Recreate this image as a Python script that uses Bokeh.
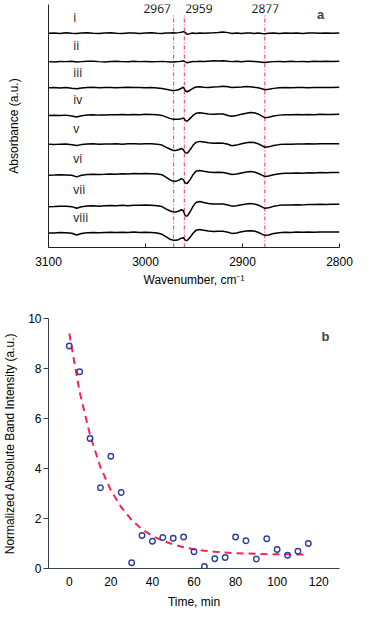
from bokeh.plotting import figure
from bokeh.layouts import column
from bokeh.models import Range1d, Label, FixedTicker
from bokeh.embed import file_html
from bokeh.resources import INLINE

# ---------------- Panel a data: stacked IR difference spectra ----------------
wavenumber = [3100, 3094, 3088, 3082, 3076, 3071, 3066, 3060, 3054, 3048,
              3042, 3036, 3030, 3024, 3018, 3012, 3006, 3000, 2994, 2988,
              2983, 2979, 2975, 2972, 2969, 2966, 2963, 2961, 2959, 2957,
              2954, 2951, 2948, 2944, 2940, 2935, 2930, 2925, 2920, 2915,
              2911, 2906, 2901, 2896, 2892, 2888, 2884, 2880, 2877, 2873,
              2868, 2862, 2856, 2850, 2844, 2838, 2832, 2826, 2820, 2814,
              2808, 2800]

trace_names = ["i", "ii", "iii", "iv", "v", "vi", "vii", "viii"]
trace_offsets = [218.7, 189.7, 163.0, 135.3, 105.3, 75.3, 43.0, 15.0]

abs_i = [0, 0.3, -0.2, 0.4, 0, -0.3, 0.2, 0.5, 0, -0.3,
         0.2, 0.4, 0, -0.2, 0.3, 0.1, -0.3, 0.2, 0.4, 0,
         -0.2, 0.2, 0.3, 0.5, 0.3, 0.6, 1.0, 1.6, 0.8, -1.2,
         -0.4, 0.3, -0.2, 0.2, 0, 0.3, 0.5, 0.8, 1.3, 0.6,
         -0.2, 0.3, -0.3, 0.2, 0.1, -0.2, 0.3, -0.2, -0.5, 0,
         0.3, -0.2, 0.2, 0, 0.3, -0.2, 0.1, 0.3, -0.1, 0.2,
         0, 0.1]
abs_ii = [0, -0.3, 0.2, 0, 0.3, -0.4, 0, 0.3, 0.5, 0,
          -0.3, 0.2, 0.4, 0, -0.2, 0.3, 0, 0.2, -0.2, 0,
          0.2, 0, -0.3, -0.4, -0.2, 0, 0.3, 0.8, -0.2, -1.2,
          -0.3, 0.2, 0, 0.3, 0.2, 0.5, 0.8, 0.6, 1.0, 0.3,
          0, 0.3, -0.2, 0.4, 0.5, 0.2, -0.2, -0.6, -1.0, -0.4,
          0, 0.2, -0.2, 0.3, 0, 0.2, -0.2, 0.3, 0.1, 0.4,
          0.2, 0.3]
abs_iii = [0, 0.3, -0.2, 0.4, -0.4, -0.9, -0.2, 0.3, 0.5, 0,
           0.4, 0.2, 0, 0.4, 0.6, 0.2, 0.4, 0.1, 0.3, -0.2,
           -0.8, -1.5, -2.3, -2.7, -2.6, -2.0, -0.5, 0.6, -3.0, -4.0,
           -2.5, -0.5, 0.8, 1.0, 0.6, 0.4, 0.7, 1.0, 1.6, 1.0,
           0.3, 0.6, 0.8, 1.2, 1.1, 0.5, 0, -1.0, -2.0, -1.6,
           -0.6, 0, 0.3, 0, 0.2, 0.4, 0, 0.2, 0.4, 0.2,
           0.3, 0.5]
abs_iv = [-0.5, -0.3, -0.6, -0.2, -1.0, -2.2, -0.8, 0, 0.2, -0.2,
          0, 0.3, 0.1, 0.4, 0.2, 0.5, 0.3, 0.6, 0.4, 0.2,
          -0.5, -2.0, -3.5, -4.3, -4.5, -4.3, -3.8, -3.2, -5.5, -6.5,
          -3.5, -0.5, 1.6, 2.3, 1.7, 1.0, 0.6, 0.9, 1.0, -0.5,
          -1.4, -0.6, 0.8, 1.8, 2.5, 2.2, 1.0, -1.2, -2.8, -2.4,
          -1.0, -0.2, 0.3, 0.1, 0.4, 0.2, 0.5, 0.3, 0.6, 0.4,
          0.5, 0.6]
abs_v = [0, -0.3, 0.2, 0.3, -0.4, -1.2, -0.3, 0.3, 0.5, 0.2,
         0.4, 0.3, 0.6, 0.2, 0.5, 0.7, 0.4, 0.6, 0.5, 0.2,
         -0.8, -2.8, -4.8, -6.0, -6.3, -5.5, -4.2, -5.5, -8.5, -9.0,
         -5.5, -1.0, 2.0, 3.0, 2.4, 1.6, 1.0, 1.3, 1.2, 0,
         -1.5, -0.8, 0.6, 1.6, 2.2, 1.8, 0.6, -1.4, -3.0, -2.6,
         -1.2, -0.3, 0.2, 0.1, 0.4, 0.3, 0.6, 0.4, 0.7, 0.5,
         0.6, 0.7]
abs_vi = [-1.5, -1.3, -1.0, -1.2, -1.5, -3.2, -1.6, -0.8, -0.6, -0.9,
          -0.6, -0.2, -0.5, 0, -0.2, 0.3, 0, 0.2, 0, -0.2,
          -1.0, -3.5, -6.0, -7.5, -7.8, -6.8, -5.0, -6.0, -9.5, -10.0,
          -6.0, -1.0, 2.5, 3.3, 2.6, 1.8, 1.3, 1.5, 1.3, 0.3,
          -0.8, -0.3, 0.8, 1.8, 2.2, 1.8, 0.5, -1.5, -2.8, -2.4,
          -1.0, 0, 0.5, 0.4, 0.8, 0.6, 1.0, 0.8, 1.2, 1.0,
          1.2, 1.3]
abs_vii = [-1.5, -1.2, -0.8, -1.0, -1.3, -3.0, -1.5, -0.6, -0.4, -0.8,
           -0.4, -0.1, -0.5, 0, -0.3, 0.2, 0, 0.3, 0.1, -0.3,
           -1.2, -3.5, -5.5, -6.5, -6.8, -6.0, -4.5, -5.5, -10.5, -11.0,
           -6.5, -1.0, 3.0, 4.0, 3.0, 2.0, 1.4, 1.5, 1.3, 0.3,
           -0.8, -0.3, 0.6, 1.5, 1.8, 1.5, 0.4, -1.5, -3.0, -2.5,
           -1.0, 0, 0.5, 0.3, 0.7, 0.5, 1.0, 0.8, 1.1, 0.9,
           1.1, 1.2]
abs_viii = [-0.3, -0.2, 0.2, 0, -0.5, -2.2, -0.8, 0, 0.4, 0,
            0.3, 0.5, 0.2, 0.6, 0.3, 0.7, 0.4, 0.5, 0.3, -0.2,
            -1.5, -4.0, -6.5, -7.3, -7.5, -7.0, -5.5, -5.0, -7.5, -7.8,
            -4.5, -0.5, 2.5, 3.3, 2.6, 1.8, 1.3, 1.6, 1.5, 0.6,
            -0.6, -0.2, 1.0, 1.8, 2.2, 1.9, 0.6, -1.3, -2.6, -2.2,
            -0.8, 0.1, 0.5, 0.3, 0.7, 0.5, 0.8, 0.6, 0.9, 0.7,
            0.8, 0.9]
spectra = [abs_i, abs_ii, abs_iii, abs_iv, abs_v, abs_vi, abs_vii, abs_viii]

wavenumber_ticks = [3100, 3000, 2900, 2800]

peak_positions = [2971, 2960, 2877]
peak_labels = ["2967", "2959", "2877"]
peak_label_x = [2988, 2945, 2876.5]

# ---------------- Panel b data: band intensity vs time ----------------
time_min = [0, 5, 10, 15, 20, 25, 30, 35, 40, 45, 50, 55,
            60, 65, 70, 75, 80, 85, 90, 95, 100, 105, 110, 115]
intensity = [8.9, 7.87, 5.2, 3.23, 4.49, 3.04, 0.23, 1.32, 1.09, 1.24, 1.21, 1.26,
             0.67, 0.08, 0.39, 0.44, 1.26, 1.11, 0.38, 1.19, 0.76, 0.53, 0.69, 1.0]
fit_time = [0, 5, 10, 15, 20, 25, 30, 35, 40, 45, 50, 55,
            60, 65, 70, 75, 80, 85, 90, 95, 100, 105, 110, 115]
fit_values = [9.40, 7.05, 5.33, 4.05, 3.13, 2.45, 1.94, 1.57, 1.30, 1.11, 0.96, 0.85,
              0.77, 0.71, 0.67, 0.64, 0.61, 0.60, 0.585, 0.575, 0.57, 0.565, 0.56, 0.555]
time_ticks = [0, 20, 40, 60, 80, 100, 120]
intensity_ticks = [0, 2, 4, 6, 8, 10]

AXIS_FONT = "Liberation Sans"
LABEL_FONT = "Open Sans"

# ---------------- Panel a ----------------
pa = figure(width=353, height=294, x_range=Range1d(3100, 2800), y_range=Range1d(0, 248),
            output_backend="svg", toolbar_location=None,
            min_border_left=45, min_border_right=14, min_border_top=4, min_border_bottom=47)
pa.outline_line_color = None
pa.grid.visible = False

xa = pa.xaxis[0]
xa.ticker = FixedTicker(ticks=wavenumber_ticks)
xa.major_tick_in = 4
xa.major_tick_out = 0
xa.minor_tick_line_color = None
xa.axis_line_color = "#222222"
xa.major_tick_line_color = "#222222"
xa.major_label_text_font = AXIS_FONT
xa.major_label_text_font_size = "12px"
xa.major_label_text_color = "black"
xa.major_label_standoff = 9
xa.axis_label = "Wavenumber, cm\u207b\u00b9"
xa.axis_label_text_font = AXIS_FONT
xa.axis_label_text_font_size = "12px"
xa.axis_label_text_font_style = "normal"
xa.axis_label_text_color = "black"
xa.axis_label_standoff = 4

ya = pa.yaxis[0]
ya.ticker = FixedTicker(ticks=[])
ya.major_tick_in = 0
ya.major_tick_out = 0
ya.minor_tick_line_color = None
ya.major_label_standoff = 0
ya.axis_line_color = "#222222"
ya.axis_label = "Absorbance (a.u.)"
ya.axis_label_text_font = AXIS_FONT
ya.axis_label_text_font_size = "12px"
ya.axis_label_text_font_style = "normal"
ya.axis_label_text_color = "black"
ya.axis_label_standoff = 28

for xpos in peak_positions:
    pa.line([xpos, xpos], [0, 237], line_color="#ff3355", line_width=1, line_dash="4 2 1 2")

for name, off, vals in zip(trace_names, trace_offsets, spectra):
    ys = [off + v for v in vals]
    pa.line(wavenumber, ys, line_color="black", line_width=1.5)
    pa.add_layout(Label(x=3074.5, y=off + 16, text=name, text_font=LABEL_FONT,
                        text_font_size="12px", text_align="left", text_baseline="middle",
                        text_color="#111111"))

for txt, xl in zip(peak_labels, peak_label_x):
    pa.add_layout(Label(x=xl, y=244, text=txt, text_font=LABEL_FONT, text_font_size="12px",
                        text_align="center", text_baseline="middle", text_color="#111111"))

pa.add_layout(Label(x=2819.5, y=238, text="a", text_font=AXIS_FONT, text_font_size="13px",
                    text_font_style="bold", text_align="center", text_baseline="middle"))

# ---------------- Panel b ----------------
pb = figure(width=353, height=317, x_range=Range1d(-10, 130), y_range=Range1d(0, 10),
            output_backend="svg", toolbar_location=None,
            min_border_left=43, min_border_right=0, min_border_top=24, min_border_bottom=42)
pb.outline_line_color = None
pb.grid.visible = False

xb = pb.xaxis[0]
xb.ticker = FixedTicker(ticks=time_ticks)
xb.major_tick_in = 0
xb.major_tick_out = 0
xb.minor_tick_line_color = None
xb.axis_line_color = "#33404d"
xb.major_label_text_font = AXIS_FONT
xb.major_label_text_font_size = "12px"
xb.major_label_text_color = "black"
xb.major_label_standoff = 8
xb.axis_label = "Time, min"
xb.axis_label_text_font = AXIS_FONT
xb.axis_label_text_font_size = "12px"
xb.axis_label_text_font_style = "normal"
xb.axis_label_text_color = "black"
xb.axis_label_standoff = 6

yb = pb.yaxis[0]
yb.ticker = FixedTicker(ticks=intensity_ticks)
yb.major_tick_in = 0
yb.major_tick_out = 5
yb.minor_tick_line_color = None
yb.axis_line_color = "#33404d"
yb.major_tick_line_color = "#33404d"
yb.major_label_text_font = AXIS_FONT
yb.major_label_text_font_size = "12px"
yb.major_label_text_color = "black"
yb.major_label_standoff = 2
yb.axis_label = "Normalized Absolute Band Intensity (a.u.)"
yb.axis_label_text_font = AXIS_FONT
yb.axis_label_text_font_size = "12px"
yb.axis_label_text_font_style = "normal"
yb.axis_label_text_color = "black"
yb.axis_label_standoff = 8

pb.line(fit_time, fit_values, line_color="#ff1f4f", line_width=2, line_dash="7 5")
pb.scatter(time_min, intensity, marker="circle", size=5.5, fill_color=None,
           line_color="#2f3f9f", line_width=1.4)

pb.add_layout(Label(x=123.3, y=9.28, text="b", text_font=AXIS_FONT, text_font_size="13px",
                    text_font_style="bold", text_align="center", text_baseline="middle"))

p = column(pa, pb, spacing=0)
open("out.html", "w").write(file_html(p, INLINE))
